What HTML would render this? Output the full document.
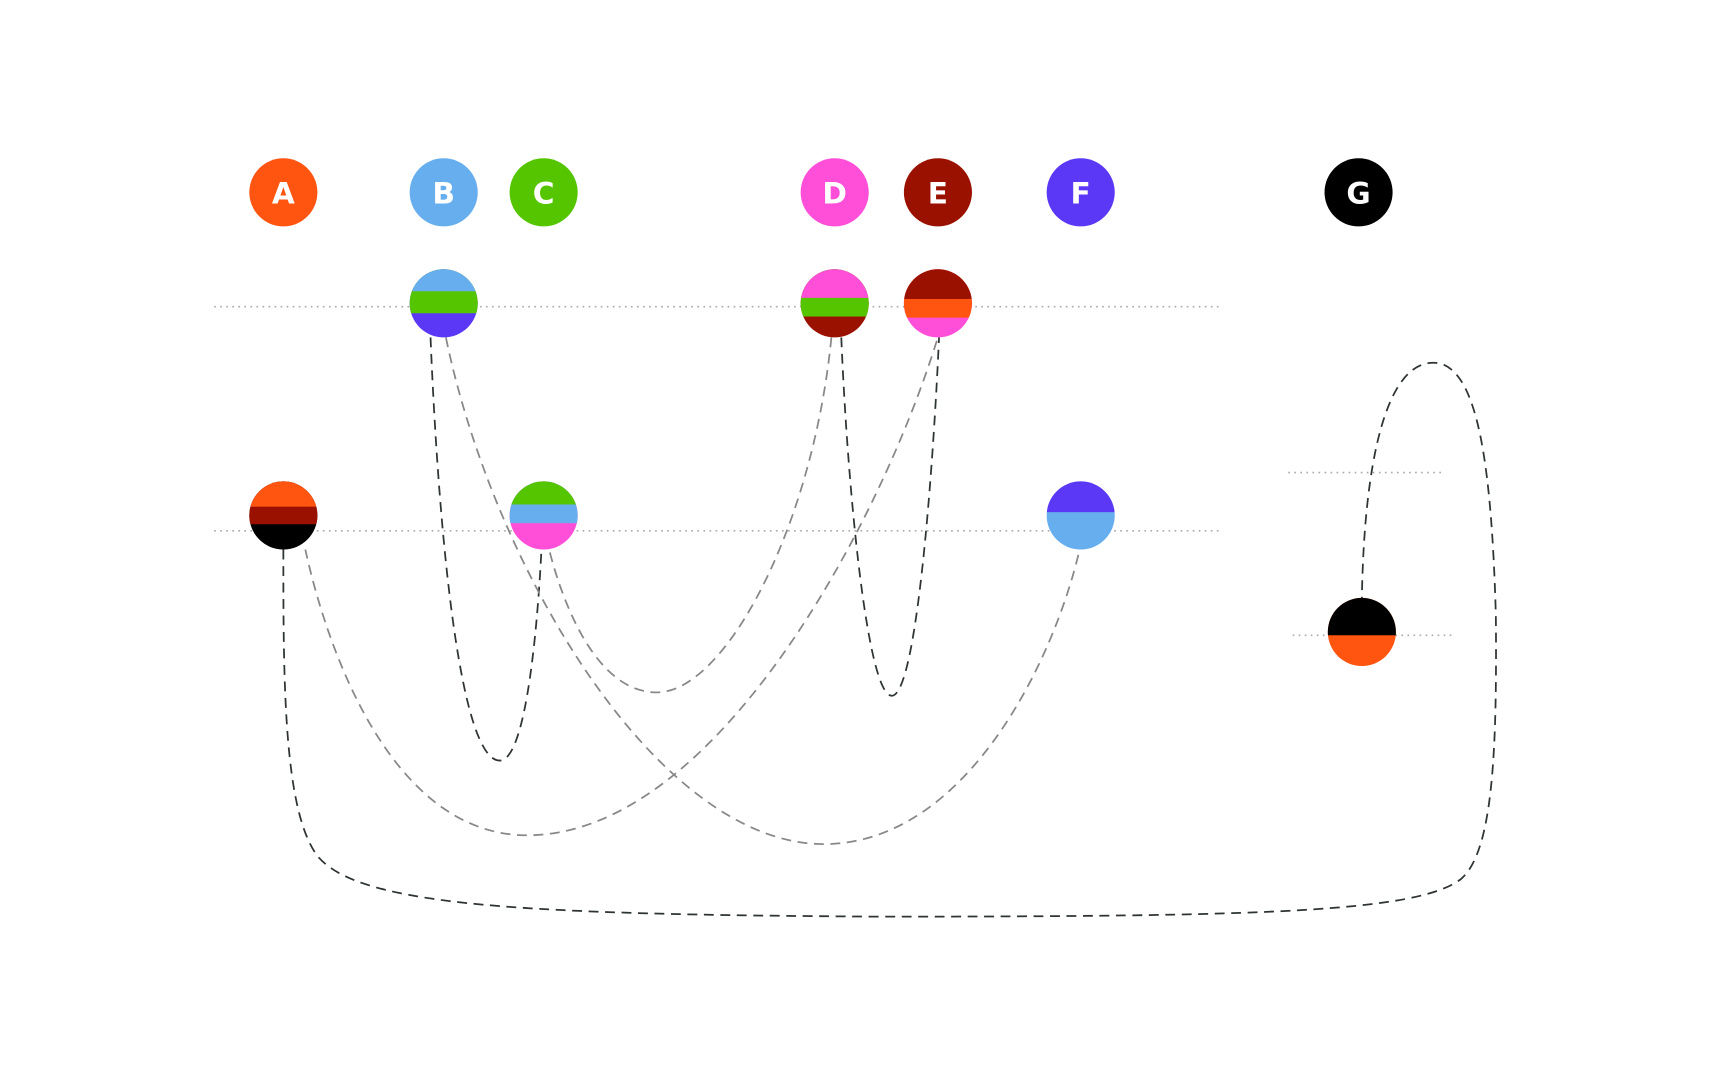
<!DOCTYPE html>
<html><head><meta charset="utf-8"><style>
html,body{margin:0;padding:0;background:#fff;}
svg{display:block;}
text{font-family:"DejaVu Sans","Liberation Sans",sans-serif;font-weight:bold;fill:#fff;font-size:27px;text-anchor:middle;}
</style></head><body>
<svg width="1721" height="1076" viewBox="0 0 1567 979" preserveAspectRatio="none" xmlns="http://www.w3.org/2000/svg">
<defs>
<clipPath id="cB"><circle cx="404" cy="276" r="31"/></clipPath>
<clipPath id="cD"><circle cx="760" cy="276" r="31"/></clipPath>
<clipPath id="cE"><circle cx="854" cy="276" r="31"/></clipPath>
<clipPath id="cA"><circle cx="258" cy="469" r="31"/></clipPath>
<clipPath id="cC"><circle cx="495" cy="469" r="31"/></clipPath>
<clipPath id="cF"><circle cx="984" cy="469" r="31"/></clipPath>
<clipPath id="cG"><circle cx="1240" cy="575" r="31"/></clipPath>
</defs>
<g stroke="#aaa" stroke-width="1.5" stroke-dasharray="1.5 4">
<line x1="195" y1="279" x2="1112" y2="279"/>
<line x1="195" y1="483" x2="1112" y2="483"/>
<line x1="1173" y1="430" x2="1312" y2="430"/>
<line x1="1177" y1="578" x2="1322" y2="578"/>
</g>
<g fill="none" stroke-width="1.6" stroke-dasharray="9 6">
<path stroke="#2e3434" d="M392,307 C400,500 420,692 455,692 C480,692 490,560 493,500"/>
<path stroke="#888" d="M406,307 C450,520 600,768 750,768 C880,768 960,600 983,500"/>
<path stroke="#888" d="M757,307 C740,480 660,630 598,630 C540,630 510,540 500,500"/>
<path stroke="#2e3434" d="M766,307 C772,450 790,633 812,633 C835,633 850,420 855,307"/>
<path stroke="#888" d="M853,310 C800,480 650,760 480,760 C360,760 300,600 278,500"/>
<path stroke="#2e3434" d="M258,500 C258,620 258,740 290,780 C330,825 480,832 800,834 C1150,834 1290,830 1330,800 C1360,775 1363,680 1362,560 C1358,420 1345,330 1305,330 C1262,330 1242,420 1240,545"/>
</g>
<circle cx="258" cy="175" r="31" fill="#FF5511"/><text x="258" y="185">A</text>
<circle cx="404" cy="175" r="31" fill="#66AEEE"/><text x="404" y="185">B</text>
<circle cx="495" cy="175" r="31" fill="#55C500"/><text x="495" y="185">C</text>
<circle cx="760" cy="175" r="31" fill="#FF4FD8"/><text x="760" y="185">D</text>
<circle cx="854" cy="175" r="31" fill="#9A1100"/><text x="854" y="185">E</text>
<circle cx="984" cy="175" r="31" fill="#5B38F5"/><text x="984" y="185">F</text>
<circle cx="1237" cy="175" r="31" fill="#000"/><text x="1237" y="185">G</text>
<g clip-path="url(#cB)"><rect x="370" y="240" width="70" height="80" fill="#5B38F5"/><rect x="370" y="240" width="70" height="45" fill="#55C500"/><rect x="370" y="240" width="70" height="25" fill="#66AEEE"/></g>
<g clip-path="url(#cD)"><rect x="726" y="240" width="70" height="80" fill="#9A1100"/><rect x="726" y="240" width="70" height="48" fill="#55C500"/><rect x="726" y="240" width="70" height="31" fill="#FF4FD8"/></g>
<g clip-path="url(#cE)"><rect x="820" y="240" width="70" height="80" fill="#FF4FD8"/><rect x="820" y="240" width="70" height="49" fill="#FF5511"/><rect x="820" y="240" width="70" height="32" fill="#9A1100"/></g>
<g clip-path="url(#cA)"><rect x="224" y="430" width="70" height="80" fill="#000"/><rect x="224" y="430" width="70" height="47" fill="#9A1100"/><rect x="224" y="430" width="70" height="31" fill="#FF5511"/></g>
<g clip-path="url(#cC)"><rect x="461" y="430" width="70" height="80" fill="#FF4FD8"/><rect x="461" y="430" width="70" height="46" fill="#66AEEE"/><rect x="461" y="430" width="70" height="29" fill="#55C500"/></g>
<g clip-path="url(#cF)"><rect x="950" y="430" width="70" height="80" fill="#66AEEE"/><rect x="950" y="430" width="70" height="36" fill="#5B38F5"/></g>
<g clip-path="url(#cG)"><rect x="1205" y="540" width="70" height="80" fill="#FF5511"/><rect x="1205" y="540" width="70" height="38" fill="#000"/></g>
</svg>
</body></html>
